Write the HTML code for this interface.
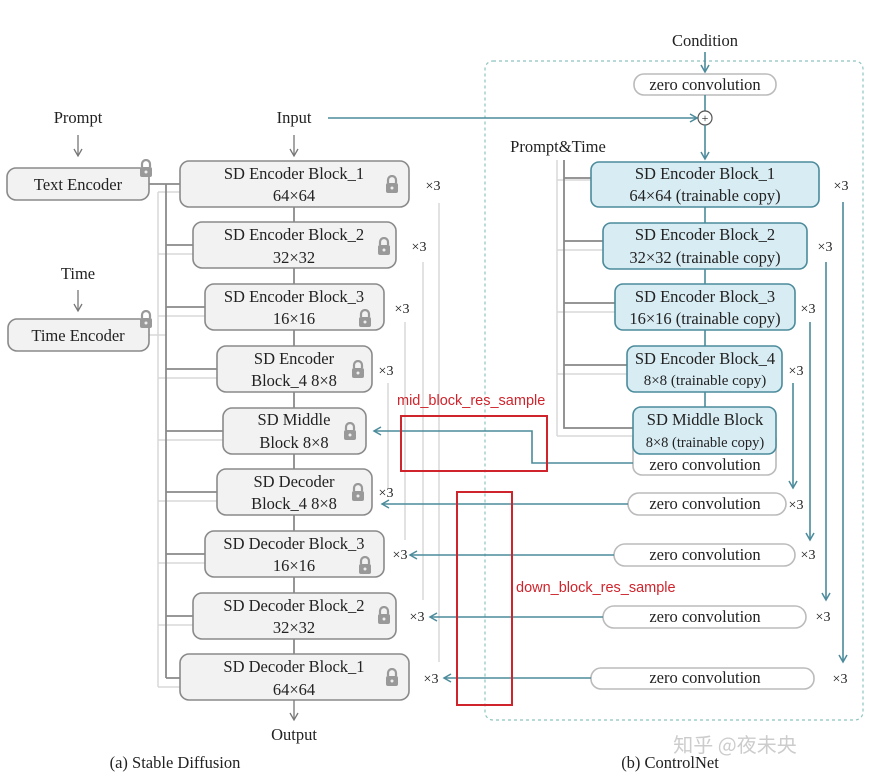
<!DOCTYPE html>
<html><head><meta charset="utf-8"><style>
html,body{margin:0;padding:0;background:#fff;}
svg{display:block;}
text{font-family:"Liberation Serif","Noto Serif CJK SC",serif;font-size:16.5px;fill:#222;text-anchor:middle;}
.s{font-family:"Liberation Sans",sans-serif;font-size:14.5px;fill:#d0242c;text-anchor:start;}
.x{font-size:14px;}
.g{fill:#f2f2f2;stroke:#8a8a8a;stroke-width:1.6;}
.b{fill:#d8ecf3;stroke:#4b8b9b;stroke-width:1.6;}
.w{fill:#fff;stroke:#bbb;stroke-width:1.6;}
.dk{stroke:#8a8a8a;stroke-width:1.8;fill:none;}
.lt{stroke:#d8d8d8;stroke-width:1.5;fill:none;}
.tl{stroke:#4b8b9b;stroke-width:1.6;fill:none;}
.red{stroke:#d0242c;stroke-width:2;fill:none;}
</style></head><body>
<svg width="879" height="782" viewBox="0 0 879 782" xmlns="http://www.w3.org/2000/svg">
<defs>
<marker id="ag" markerWidth="10" markerHeight="10" refX="8" refY="5" orient="auto" markerUnits="userSpaceOnUse"><path d="M1,1 L8,5 L1,9" fill="none" stroke="#777" stroke-width="1.3"/></marker>
<marker id="at" markerWidth="10" markerHeight="10" refX="8" refY="5" orient="auto" markerUnits="userSpaceOnUse"><path d="M1,1 L8,5 L1,9" fill="none" stroke="#4b8b9b" stroke-width="1.5"/></marker>
<symbol id="lock" viewBox="0 0 14 18"><path d="M3,8 V5 a4,4 0 0 1 8,0 V8" fill="none" stroke="#999" stroke-width="2.2"/><rect x="1" y="8" width="12" height="10" rx="2" fill="#999"/><circle cx="7" cy="13" r="1.5" fill="#eee"/></symbol>
</defs>

<rect x="485" y="61" width="378" height="659" rx="8" fill="none" stroke="#8cc4c0" stroke-width="1.2" stroke-dasharray="3,3"/>

<path class="lt" d="M158,192 V687 M158,192 H180 M158,254 H193 M158,316 H205 M158,378 H217 M158,440 H223 M158,501 H217 M158,563 H205 M158,625 H193 M158,687 H180 M149,335 H166"/>
<path class="dk" d="M149,184 H180 M166,184 V678 M166,245 H193 M166,307 H205 M166,369 H217 M166,431 H223 M166,492 H217 M166,554 H205 M166,616 H193 M166,678 H180"/>
<path class="dk" d="M294,207 V654"/>
<path class="lt" d="M439,203 V662 M423,262 V600 M405,322 V540 M388,383 V488"/>

<text x="78" y="123">Prompt</text>
<line x1="78" y1="135" x2="78" y2="156" stroke="#777" stroke-width="1.3" marker-end="url(#ag)"/>
<text x="78" y="279">Time</text>
<line x1="78" y1="290" x2="78" y2="311" stroke="#777" stroke-width="1.3" marker-end="url(#ag)"/>
<text x="294" y="123">Input</text>
<line x1="294" y1="135" x2="294" y2="156" stroke="#777" stroke-width="1.3" marker-end="url(#ag)"/>

<rect class="g" x="7" y="168" width="142" height="32" rx="9"/><text x="78" y="190">Text Encoder</text>
<use href="#lock" x="139" y="159" width="14" height="18"/>
<rect class="g" x="8" y="319" width="141" height="32" rx="9"/><text x="78" y="341">Time Encoder</text>
<use href="#lock" x="139" y="310" width="14" height="18"/>

<rect class="g" x="180" y="161" width="229" height="46" rx="9"/><text x="294" y="179">SD Encoder Block_1</text><text x="294" y="201">64×64</text><use href="#lock" x="385" y="175" width="14" height="18"/>
<rect class="g" x="193" y="222" width="203" height="46" rx="9"/><text x="294" y="240">SD Encoder Block_2</text><text x="294" y="263">32×32</text><use href="#lock" x="377" y="237" width="14" height="18"/>
<rect class="g" x="205" y="284" width="179" height="46" rx="9"/><text x="294" y="302">SD Encoder Block_3</text><text x="294" y="324">16×16</text><use href="#lock" x="358" y="309" width="14" height="18"/>
<rect class="g" x="217" y="346" width="155" height="46" rx="9"/><text x="294" y="364">SD Encoder</text><text x="294" y="386">Block_4 8×8</text><use href="#lock" x="351" y="360" width="14" height="18"/>
<rect class="g" x="223" y="408" width="143" height="46" rx="9"/><text x="294" y="425">SD Middle</text><text x="294" y="448">Block 8×8</text><use href="#lock" x="343" y="422" width="14" height="18"/>
<rect class="g" x="217" y="469" width="155" height="46" rx="9"/><text x="294" y="487">SD Decoder</text><text x="294" y="509">Block_4 8×8</text><use href="#lock" x="351" y="483" width="14" height="18"/>
<rect class="g" x="205" y="531" width="179" height="46" rx="9"/><text x="294" y="549">SD Decoder Block_3</text><text x="294" y="571">16×16</text><use href="#lock" x="358" y="556" width="14" height="18"/>
<rect class="g" x="193" y="593" width="203" height="46" rx="9"/><text x="294" y="611">SD Decoder Block_2</text><text x="294" y="633">32×32</text><use href="#lock" x="377" y="606" width="14" height="18"/>
<rect class="g" x="180" y="654" width="229" height="46" rx="9"/><text x="294" y="672">SD Decoder Block_1</text><text x="294" y="695">64×64</text><use href="#lock" x="385" y="668" width="14" height="18"/>
<line x1="294" y1="700" x2="294" y2="720" stroke="#777" stroke-width="1.3" marker-end="url(#ag)"/>
<text x="294" y="740">Output</text>

<text class="x" x="433" y="190">×3</text><text class="x" x="419" y="251">×3</text><text class="x" x="402" y="313">×3</text><text class="x" x="386" y="375">×3</text>
<text class="x" x="386" y="497">×3</text><text class="x" x="400" y="559">×3</text><text class="x" x="417" y="621">×3</text><text class="x" x="431" y="683">×3</text>

<text x="705" y="46">Condition</text>
<line class="tl" x1="705" y1="52" x2="705" y2="72" marker-end="url(#at)"/>
<rect class="w" x="634" y="74" width="142" height="21" rx="10"/><text x="705" y="90">zero convolution</text>
<line class="tl" x1="705" y1="95" x2="705" y2="112"/>
<line class="tl" x1="328" y1="118" x2="697" y2="118" marker-end="url(#at)"/>
<circle cx="705" cy="118" r="7" fill="#fff" stroke="#555" stroke-width="1.2"/>
<text x="705" y="122" style="font-size:12px">+</text>
<line class="tl" x1="705" y1="125" x2="705" y2="159" marker-end="url(#at)"/>
<text x="558" y="152">Prompt&amp;Time</text>

<path class="lt" d="M557,160 V436 M557,180 H591 M557,250 H603 M557,312 H615 M557,374 H627 M557,436 H633"/>
<path class="dk" style="stroke:#888" d="M564,160 V428 H633 M564,178 H591 M564,241 H603 M564,303 H615 M564,365 H627"/>
<path class="tl" d="M705,207 V407"/>

<rect class="b" x="591" y="162" width="228" height="45" rx="8"/><text x="705" y="179">SD Encoder Block_1</text><text x="705" y="201">64×64 (trainable copy)</text>
<rect class="b" x="603" y="223" width="204" height="46" rx="8"/><text x="705" y="240">SD Encoder Block_2</text><text x="705" y="263">32×32 (trainable copy)</text>
<rect class="b" x="615" y="284" width="180" height="46" rx="8"/><text x="705" y="302">SD Encoder Block_3</text><text x="705" y="324">16×16 (trainable copy)</text>
<rect class="b" x="627" y="346" width="155" height="46" rx="8"/><text x="705" y="364">SD Encoder Block_4</text><text x="705" y="385" style="font-size:15px">8×8 (trainable copy)</text>
<rect class="w" x="633" y="430" width="143" height="45" rx="9"/>
<rect class="b" x="633" y="407" width="143" height="47" rx="8"/><text x="705" y="425">SD Middle Block</text><text x="705" y="447" style="font-size:14.5px">8×8 (trainable copy)</text>
<text x="705" y="470">zero convolution</text>

<text class="x" x="841" y="190">×3</text><text class="x" x="825" y="251">×3</text><text class="x" x="808" y="313">×3</text><text class="x" x="796" y="375">×3</text>

<line class="tl" x1="843" y1="202" x2="843" y2="662" marker-end="url(#at)"/>
<line class="tl" x1="826" y1="262" x2="826" y2="600" marker-end="url(#at)"/>
<line class="tl" x1="810" y1="322" x2="810" y2="540" marker-end="url(#at)"/>
<line class="tl" x1="793" y1="383" x2="793" y2="488" marker-end="url(#at)"/>

<rect class="w" x="628" y="493" width="158" height="22" rx="11"/><text x="705" y="509">zero convolution</text><text class="x" x="796" y="509">×3</text>
<rect class="w" x="614" y="544" width="181" height="22" rx="11"/><text x="705" y="560">zero convolution</text><text class="x" x="808" y="559">×3</text>
<rect class="w" x="603" y="606" width="203" height="22" rx="11"/><text x="705" y="622">zero convolution</text><text class="x" x="823" y="621">×3</text>
<rect class="w" x="591" y="668" width="223" height="21" rx="10"/><text x="705" y="683">zero convolution</text><text class="x" x="840" y="683">×3</text>

<path class="tl" d="M633,463 H532 V431 H374" marker-end="url(#at)"/>
<line class="tl" x1="628" y1="504" x2="382" y2="504" marker-end="url(#at)"/>
<line class="tl" x1="614" y1="555" x2="410" y2="555" marker-end="url(#at)"/>
<line class="tl" x1="603" y1="617" x2="430" y2="617" marker-end="url(#at)"/>
<line class="tl" x1="591" y1="678" x2="444" y2="678" marker-end="url(#at)"/>

<rect class="red" x="401" y="416" width="146" height="55"/>
<rect class="red" x="457" y="492" width="55" height="213"/>
<text class="s" x="397" y="405">mid_block_res_sample</text>
<text class="s" x="516" y="592">down_block_res_sample</text>

<text x="175" y="768">(a) Stable Diffusion</text>
<text x="670" y="768">(b) ControlNet</text>
<text x="735" y="752" style="font-family:'Noto Sans CJK SC',sans-serif;font-size:20px;fill:#ccc">知乎 @夜未央</text>
</svg>
</body></html>
